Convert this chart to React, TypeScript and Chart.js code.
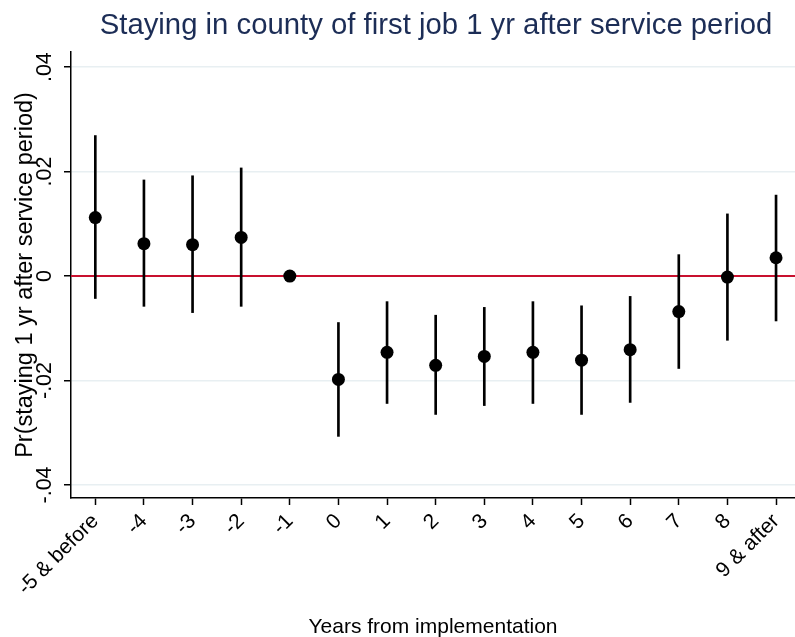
import React, { useEffect, useRef } from "react";
import { Chart, registerables } from "chart.js";

Chart.register(...registerables);

const TITLE = "Staying in county of first job 1 yr after service period";
const X_TITLE = "Years from implementation";
const Y_TITLE = "Pr(staying 1 yr after service period)";

const years = [-5, -4, -3, -2, -1, 0, 1, 2, 3, 4, 5, 6, 7, 8, 9];
const yearLabels = ["-5 & before", "-4", "-3", "-2", "-1", "0", "1", "2", "3", "4", "5", "6", "7", "8", "9 & after"];
const coef = [0.0112, 0.0062, 0.006, 0.0074, 0, -0.0198, -0.0146, -0.0171, -0.0154, -0.0146, -0.0161, -0.0141, -0.0068, -0.0002, 0.0035];
const upper = [0.0269, 0.0184, 0.0192, 0.0207, 0, -0.0089, -0.0049, -0.0075, -0.006, -0.0049, -0.0057, -0.0039, 0.0041, 0.0119, 0.0155];
const lower = [-0.0043, -0.0058, -0.007, -0.0058, 0, -0.0307, -0.0244, -0.0265, -0.0248, -0.0244, -0.0265, -0.0242, -0.0177, -0.0123, -0.0086];

const yTicks = [-0.04, -0.02, 0, 0.02, 0.04];
const yTickLabels = ["-.04", "-.02", "0", ".02", ".04"];

const X_MIN = -5.5;
const X_MAX = 9.39;
const Y_MIN = -0.0425;
const Y_MAX = 0.0429;

const FONT = "'Liberation Sans', Arial, sans-serif";

const titlePlugin = {
  id: "customTitle",
  afterDraw(chart: any) {
    const { ctx, chartArea } = chart;
    ctx.save();
    ctx.font = `29.3px ${FONT}`;
    ctx.fillStyle = "#1c2d56";
    ctx.textAlign = "center";
    ctx.textBaseline = "middle";
    ctx.fillText(TITLE, (chartArea.left + chartArea.right) / 2 + 3, 26);
    ctx.restore();
  },
};

export default function App() {
  const ref = useRef<HTMLCanvasElement | null>(null);

  useEffect(() => {
    if (!ref.current) return;
    const chart = new Chart(ref.current, {
      type: "scatter",
      data: {
        datasets: [
          {
            type: "scatter",
            data: years.map((x, i) => ({ x, y: coef[i] })),
            backgroundColor: "#000",
            borderWidth: 0,
            pointRadius: 6.5,
          } as any,
          {
            type: "bar",
            data: years.map((x, i) => ({ x, y: [lower[i], upper[i]] })),
            backgroundColor: "#000",
            borderWidth: 0,
            barThickness: 2,
          } as any,
          {
            type: "line",
            data: [
              { x: X_MIN, y: 0 },
              { x: X_MAX, y: 0 },
            ],
            borderColor: "#c8102e",
            borderWidth: 2,
            pointRadius: 0,
          } as any,
        ],
      },
      options: {
        responsive: false,
        devicePixelRatio: 1,
        animation: false,
        layout: { autoPadding: false, padding: { top: 52, left: 0, right: 0, bottom: 0 } },
        plugins: {
          legend: { display: false },
          tooltip: { enabled: false },
          title: { display: false },
        },
        scales: {
          x: {
            type: "linear",
            min: X_MIN,
            max: X_MAX,
            offset: false,
            afterBuildTicks: (scale: any) => {
              scale.ticks = years.map((v) => ({ value: v }));
            },
            afterFit: (scale: any) => {
              scale.height = 139;
              scale.paddingLeft = 0;
              scale.paddingRight = 0;
            },
            ticks: {
              autoSkip: false,
              minRotation: 45,
              maxRotation: 45,
              padding: 4,
              color: "#000",
              font: { family: FONT, size: 21 },
              callback: (v: any) => {
                const i = years.indexOf(Number(v));
                return i >= 0 ? yearLabels[i] : "";
              },
            },
            grid: {
              offset: false,
              drawOnChartArea: false,
              drawTicks: true,
              tickLength: 7,
              tickColor: "#000",
              tickWidth: 1.5,
            },
            border: { display: true, color: "#000", width: 1.5 },
            title: {
              display: true,
              text: X_TITLE,
              color: "#000",
              font: { family: FONT, size: 21 },
              padding: { top: 0, bottom: -3 },
            },
          },
          y: {
            type: "linear",
            min: Y_MIN,
            max: Y_MAX,
            afterBuildTicks: (scale: any) => {
              scale.ticks = yTicks.map((v) => ({ value: v }));
            },
            afterFit: (scale: any) => {
              scale.width = 71;
            },
            ticks: {
              minRotation: 90,
              maxRotation: 90,
              crossAlign: "center",
              padding: 0,
              color: "#000",
              font: { family: FONT, size: 21.5 },
              callback: (v: any) => {
                const i = yTicks.findIndex((t) => Math.abs(t - Number(v)) < 1e-9);
                return i >= 0 ? yTickLabels[i] : "";
              },
            },
            grid: {
              color: "#e8eff2",
              lineWidth: 1.5,
              drawTicks: true,
              tickLength: 7,
              tickColor: "#000",
              tickWidth: 1.5,
            },
            border: { display: true, color: "#000", width: 1.5 },
            title: {
              display: true,
              text: Y_TITLE,
              color: "#000",
              font: { family: FONT, size: 23.5 },
              padding: { top: 11, bottom: 0 },
            },
          },
        },
      } as any,
      plugins: [titlePlugin],
    });
    return () => chart.destroy();
  }, []);

  return (
    <div style={{ position: "absolute", left: 0, top: 0, width: 795, height: 637, background: "#fff" }}>
      <canvas ref={ref} width={795} height={637} style={{ display: "block" }} />
    </div>
  );
}
